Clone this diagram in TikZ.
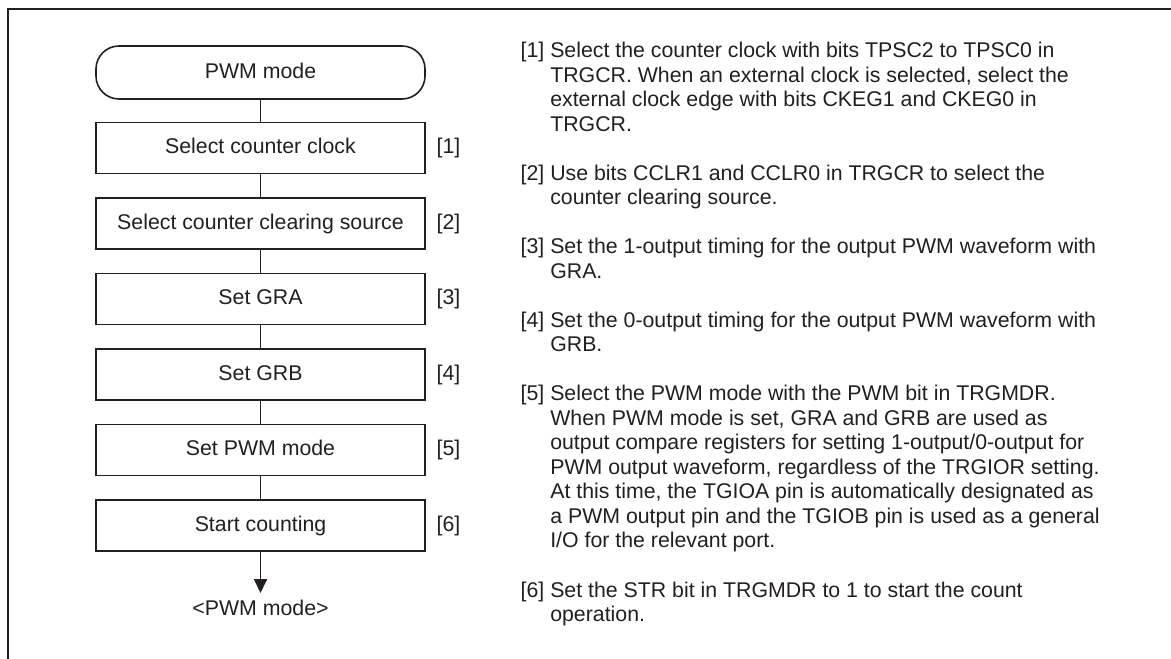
\documentclass[tikz,border=0pt]{standalone}
\usepackage{fontspec}
\setmainfont{Liberation Sans}
\usetikzlibrary{arrows.meta}
\definecolor{inkblack}{HTML}{231F20}

\begin{document}
\begin{tikzpicture}[x=1pt,y=-1pt,
    termbox/.style={draw=inkblack,line width=1.6pt,rounded corners=23pt,
      minimum width=329pt,minimum height=53pt,inner sep=0pt,
      text height=15.5pt,text depth=4.5pt},
    stepbox/.style={draw=inkblack,line width=1.6pt,
      minimum width=329pt,minimum height=51pt,inner sep=0pt,
      text height=15.5pt,text depth=4.5pt},
    steplabel/.style={anchor=west,inner sep=0pt},
    notetext/.style={anchor=base west,inner sep=0pt},
    flowline/.style={draw=inkblack,line width=1.7pt}]
        \useasboundingbox (0,0) rectangle (1171,659);
        {\fontsize{21.3}{24.5}\selectfont\color{inkblack}

        % Drawing frame (top and left edge)
        \draw [line width=1.4pt,inkblack] (8,659) -- (8,9) -- (1171,9);%

        % Flow steps
        \node [termbox] (start) at (260.5,72.5) {PWM mode};%
        \node [stepbox] (clock) at (260.5,148.0) {Select counter clock};%
        \node [stepbox] (clear) at (260.5,223.5) {Select counter clearing source};%
        \node [stepbox] (gra) at (260.5,299.0) {Set GRA};%
        \node [stepbox] (grb) at (260.5,374.5) {Set GRB};%
        \node [stepbox] (pwm) at (260.5,450.0) {Set PWM mode};%
        \node [stepbox] (count) at (260.5,525.5) {Start counting};%

        % Step numbers beside the boxes
        \node [steplabel] (lab1) at (436.5,148.0) {[1]};%
        \node [steplabel] (lab2) at (436.5,223.5) {[2]};%
        \node [steplabel] (lab3) at (436.5,299.0) {[3]};%
        \node [steplabel] (lab4) at (436.5,374.5) {[4]};%
        \node [steplabel] (lab5) at (436.5,450.0) {[5]};%
        \node [steplabel] (lab6) at (436.5,525.5) {[6]};%

        % Drawing connectors
        \draw [flowline] (start) -- (clock);%
        \draw [flowline] (clock) -- (clear);%
        \draw [flowline] (clear) -- (gra);%
        \draw [flowline] (gra) -- (grb);%
        \draw [flowline] (grb) -- (pwm);%
        \draw [flowline] (pwm) -- (count);%

        % Exit arrow
        \coordinate (outend) at (260.5,593.0);%
        \draw [flowline,-{Triangle[length=14pt,width=13pt]}] (count) -- (outend);%
        \node [anchor=base,inner sep=0pt] (outlabel) at (260.5,615.0) {<PWM mode>};%

        % Notes on the right
        \node [notetext] (note1) at (520.5,57.5) {\begin{tabular}[t]{@{}l@{\ }l@{}}[1] & Select the counter clock with bits TPSC2 to TPSC0 in\\
          & TRGCR. When an external clock is selected, select the\\
          & external clock edge with bits CKEG1 and CKEG0 in\\
          & TRGCR.\end{tabular}};%
        \node [notetext] (note2) at (520.5,180.1) {\begin{tabular}[t]{@{}l@{\ }l@{}}[2] & Use bits CCLR1 and CCLR0 in TRGCR to select the\\
          & counter clearing source.\end{tabular}};%
        \node [notetext] (note3) at (520.5,253.7) {\begin{tabular}[t]{@{}l@{\ }l@{}}[3] & Set the 1-output timing for the output PWM waveform with\\
          & GRA.\end{tabular}};%
        \node [notetext] (note4) at (520.5,327.2) {\begin{tabular}[t]{@{}l@{\ }l@{}}[4] & Set the 0-output timing for the output PWM waveform with\\
          & GRB.\end{tabular}};%
        \node [notetext] (note5) at (520.5,400.8) {\begin{tabular}[t]{@{}l@{\ }l@{}}[5] & Select the PWM mode with the PWM bit in TRGMDR.\\
          & When PWM mode is set, GRA and GRB are used as\\
          & output compare registers for setting 1-output/0-output for\\
          & PWM output waveform, regardless of the TRGIOR setting.\\
          & At this time, the TGIOA pin is automatically designated as\\
          & a PWM output pin and the TGIOB pin is used as a general\\
          & I/O for the relevant port.\end{tabular}};%
        \node [notetext] (note6) at (520.5,597.0) {\begin{tabular}[t]{@{}l@{\ }l@{}}[6] & Set the STR bit in TRGMDR to 1 to start the count\\
          & operation.\end{tabular}};%
        }
    \end{tikzpicture}
\end{document}
